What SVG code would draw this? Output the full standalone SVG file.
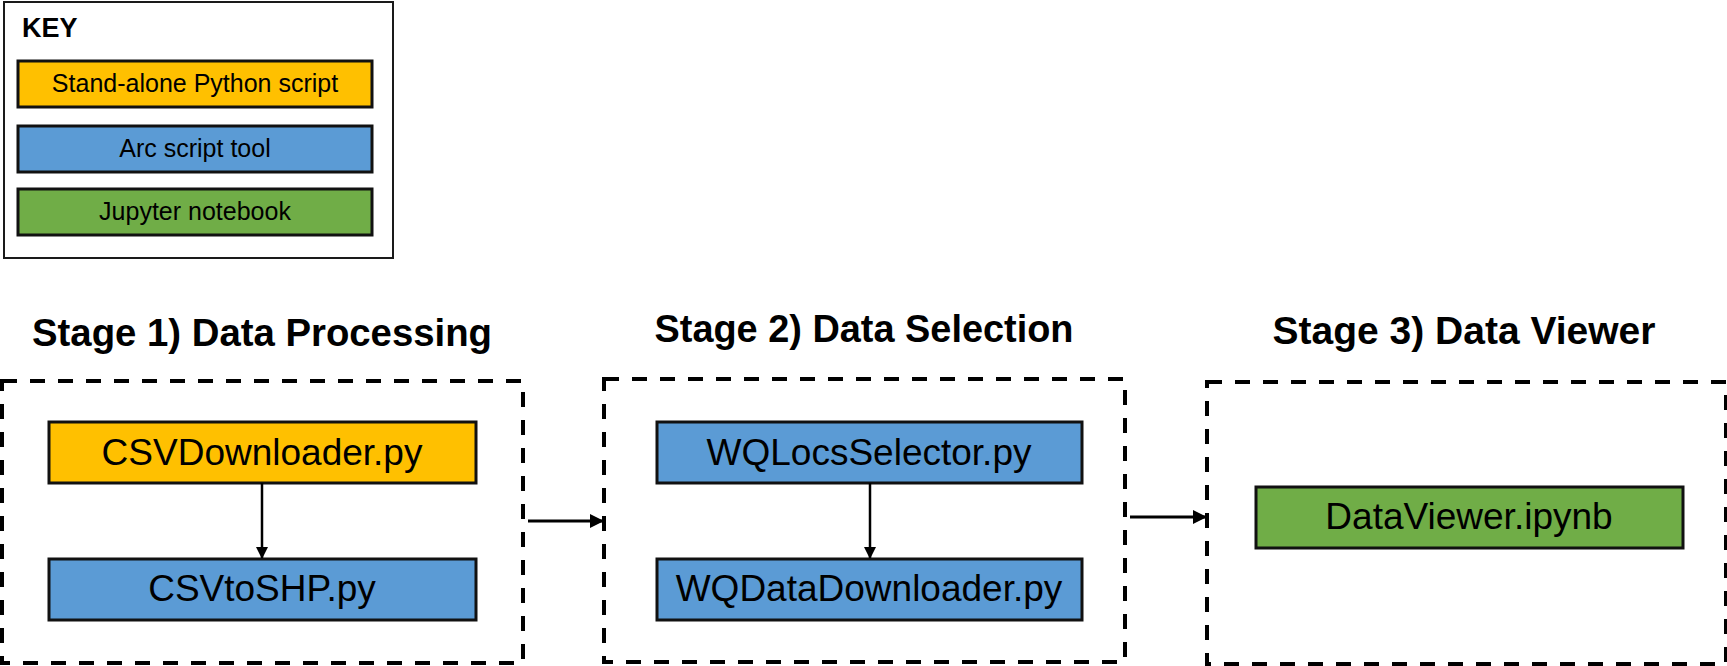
<svg xmlns="http://www.w3.org/2000/svg" width="1727" height="666" viewBox="0 0 1727 666">
<style>
.keybox{fill:#fff;stroke:#1a1a1a;stroke-width:2}
.n{stroke:#111;stroke-width:3}
.y{fill:#FFC000}
.b{fill:#5B9BD5}
.g{fill:#70AD47}
.stage{fill:none;stroke:#000;stroke-width:4;stroke-dasharray:15 13}
.t{font-family:"Liberation Sans",Arial,sans-serif;fill:#000;text-anchor:middle}
.kt{font-size:25px}
.nt{font-size:37px}
.title{font-size:38px;font-weight:bold}
.conn{stroke:#000;fill:none}
</style>
<defs>
<marker id="ah" markerWidth="12" markerHeight="12" refX="11" refY="6" orient="auto" markerUnits="userSpaceOnUse">
<path d="M0,0 L12,6 L0,12 Z" fill="#000"/>
</marker>
<marker id="ah2" markerWidth="14" markerHeight="14" refX="13" refY="7" orient="auto" markerUnits="userSpaceOnUse">
<path d="M0,0 L14,7 L0,14 Z" fill="#000"/>
</marker>
</defs>

<g id="key">
<rect class="keybox" x="4" y="2" width="389" height="256"/>
<text class="t" x="22" y="37" style="text-anchor:start;font-size:27px;font-weight:bold">KEY</text>
<rect class="n y" x="18" y="61" width="354" height="46"/>
<text class="t kt" x="195" y="92">Stand-alone Python script</text>
<rect class="n b" x="18" y="126" width="354" height="46"/>
<text class="t kt" x="195" y="157">Arc script tool</text>
<rect class="n g" x="18" y="189" width="354" height="46"/>
<text class="t kt" x="195" y="220">Jupyter notebook</text>
</g>

<g id="stage1">
<text class="t title" x="262" y="346" textLength="460" lengthAdjust="spacingAndGlyphs">Stage 1) Data Processing</text>
<rect class="stage" x="2" y="381" width="521" height="282"/>
</g>
<g id="stage2">
<text class="t title" x="864" y="342" textLength="419" lengthAdjust="spacingAndGlyphs">Stage 2) Data Selection</text>
<rect class="stage" x="604" y="379" width="521" height="283"/>
</g>
<g id="stage3">
<text class="t title" x="1464" y="344" textLength="383" lengthAdjust="spacingAndGlyphs">Stage 3) Data Viewer</text>
<rect class="stage" x="1207" y="382" width="519" height="282"/>
</g>

<g id="csvdownloader">
<rect class="n y" x="49" y="422" width="427" height="61"/>
<text class="t nt" x="262" y="465">CSVDownloader.py</text>
</g>
<g id="csvtoshp">
<rect class="n b" x="49" y="559" width="427" height="61"/>
<text class="t nt" x="262" y="601">CSVtoSHP.py</text>
</g>
<g id="wqlocsselector">
<rect class="n b" x="657" y="422" width="425" height="61"/>
<text class="t nt" x="869" y="465">WQLocsSelector.py</text>
</g>
<g id="wqdatadownloader">
<rect class="n b" x="657" y="559" width="425" height="61"/>
<text class="t nt" x="869" y="601">WQDataDownloader.py</text>
</g>
<g id="dataviewer">
<rect class="n g" x="1256" y="487" width="427" height="61"/>
<text class="t nt" x="1469" y="529">DataViewer.ipynb</text>
</g>

<g id="connectors">
<line class="conn" x1="262" y1="483" x2="262" y2="558" stroke-width="2.5" marker-end="url(#ah)"/>
<line class="conn" x1="870" y1="483" x2="870" y2="558" stroke-width="2.5" marker-end="url(#ah)"/>
<line class="conn" x1="528" y1="521" x2="603" y2="521" stroke-width="3" marker-end="url(#ah2)"/>
<line class="conn" x1="1130" y1="517" x2="1206" y2="517" stroke-width="3" marker-end="url(#ah2)"/>
</g>
</svg>
